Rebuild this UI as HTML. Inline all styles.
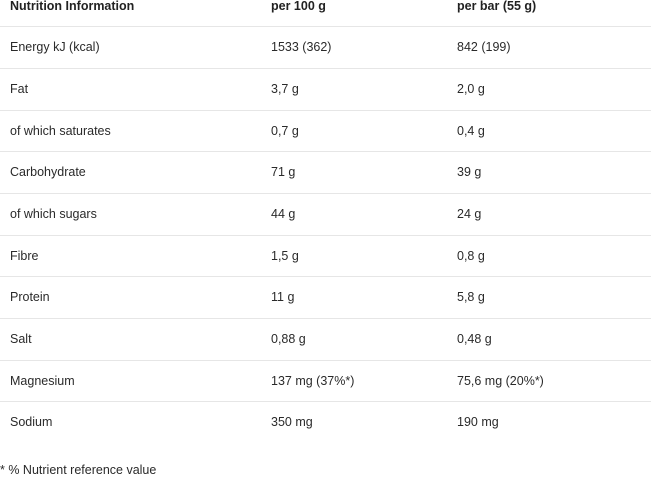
<!DOCTYPE html>
<html><head><style>
body{margin:0;width:651px;height:480px;background:#fff;position:relative;font-family:"Liberation Sans",sans-serif;font-size:12.5px;color:#2a2a2a;overflow:hidden}
.r{position:absolute;left:0;width:651px;height:16px;line-height:16px}
.r span{position:absolute;top:0;white-space:nowrap}
.a{left:10px}.b{left:271px}.c{left:457px}
.l{position:absolute;left:0;width:651px;height:1px;background:#e6e6e6}
.h{font-weight:bold;color:#222}
</style></head><body>
<div class="r h" style="top:-2px"><span class="a">Nutrition Information</span><span class="b">per 100 g</span><span class="c">per bar (55 g)</span></div>
<div class="l" style="top:26px"></div>
<div class="r" style="top:39px"><span class="a">Energy kJ (kcal)</span><span class="b">1533 (362)</span><span class="c">842 (199)</span></div>
<div class="l" style="top:68px"></div>
<div class="r" style="top:81px"><span class="a">Fat</span><span class="b">3,7 g</span><span class="c">2,0 g</span></div>
<div class="l" style="top:110px"></div>
<div class="r" style="top:123px"><span class="a">of which saturates</span><span class="b">0,7 g</span><span class="c">0,4 g</span></div>
<div class="l" style="top:151px"></div>
<div class="r" style="top:164px"><span class="a">Carbohydrate</span><span class="b">71 g</span><span class="c">39 g</span></div>
<div class="l" style="top:193px"></div>
<div class="r" style="top:206px"><span class="a">of which sugars</span><span class="b">44 g</span><span class="c">24 g</span></div>
<div class="l" style="top:235px"></div>
<div class="r" style="top:248px"><span class="a">Fibre</span><span class="b">1,5 g</span><span class="c">0,8 g</span></div>
<div class="l" style="top:276px"></div>
<div class="r" style="top:289px"><span class="a">Protein</span><span class="b">11 g</span><span class="c">5,8 g</span></div>
<div class="l" style="top:318px"></div>
<div class="r" style="top:331px"><span class="a">Salt</span><span class="b">0,88 g</span><span class="c">0,48 g</span></div>
<div class="l" style="top:360px"></div>
<div class="r" style="top:373px"><span class="a">Magnesium</span><span class="b">137 mg (37%*)</span><span class="c">75,6 mg (20%*)</span></div>
<div class="l" style="top:401px"></div>
<div class="r" style="top:414px"><span class="a">Sodium</span><span class="b">350 mg</span><span class="c">190 mg</span></div>
<div class="r" style="top:462px"><span style="left:0">* % Nutrient reference value</span></div>
</body></html>
